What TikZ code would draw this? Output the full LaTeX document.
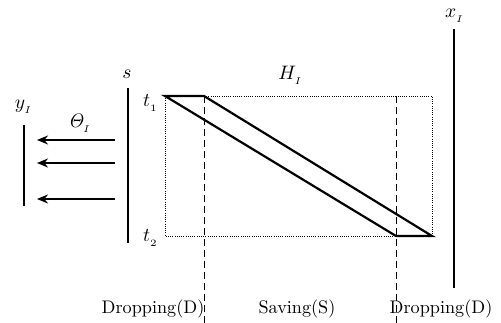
\documentclass[tikz,border=0pt]{standalone}
\usepackage{graphicx}
\usetikzlibrary{arrows.meta}
\newcommand{\mybig}[1]{\scalebox{1.95}{#1}}
\newcommand{\mytxt}[1]{\scalebox{1.82}{#1}}
\begin{document}
\begin{tikzpicture}[x=1pt,y=-1pt,
  bar/.style={line width=2.6pt},
  edge/.style={line width=2.2pt,line join=miter},
  dotline/.style={line width=0.9pt,dash pattern=on 1pt off 1.2pt},
  dashline/.style={line width=0.9pt,dash pattern=on 7pt off 4pt},
  ray/.style={line width=2.4pt,-{Stealth[length=11pt,width=9pt]}},
  lbl/.style={inner sep=0pt}]
\useasboundingbox (0,0) rectangle (501,323);
% corner coordinates
\coordinate (tl) at (165,96);
\coordinate (tm) at (204,96);
\coordinate (tr) at (432,96);
\coordinate (bl) at (165,236);
\coordinate (bm) at (396,236);
\coordinate (br) at (432,236);
\coordinate (dm) at (396,96);
\coordinate (dlb) at (204,323);
\coordinate (drb) at (396,323);
% dotted rectangle
\draw[dotline] (tm) -- (tr) -- (br);
\draw[dotline] (tl) -- (bl) -- (bm);
% dashed verticals
\draw[dashline] (tm) -- (dlb);
\draw[dashline] (dm) -- (drb);
% parallelogram
\draw[edge] (bm) -- (tl) -- (tm) -- (br) -- cycle;
% bars
\coordinate (s1) at (128,88); \coordinate (s2) at (128,243);
\coordinate (x1) at (454,29); \coordinate (x2) at (454,288);
\coordinate (y1) at (24,125); \coordinate (y2) at (24,206);
\draw[bar] (s1) -- (s2);
\draw[bar] (x1) -- (x2);
\draw[bar] (y1) -- (y2);
% arrows
\foreach \i/\yy in {a/140,b/163,c/199}{
  \coordinate (\i1) at (115,\yy); \coordinate (\i2) at (37,\yy);
  \draw[ray] (\i1) -- (\i2);
}
% labels
\node[lbl] (ls) at (127,74) {\mybig{$s$}};
\node[lbl] (lx) at (455,16) {\mybig{$x_{_I}$}};
\node[lbl] (ly) at (24,107) {\mybig{$y_{_I}$}};
\node[lbl] (lth) at (80,123) {\mybig{$\mathit{\Theta}_{_I}$}};
\node[lbl] (lh) at (291,75) {\mybig{$H_{_I}$}};
\node[lbl] (lt1) at (151,103) {\mybig{$t_{_1}$}};
\node[lbl] (lt2) at (151,238) {\mybig{$t_{_2}$}};
\node[lbl] (d1) at (153,309) {\mytxt{Dropping(D)}};
\node[lbl] (sv) at (297,309) {\mytxt{Saving(S)}};
\node[lbl] (d2) at (441,309) {\mytxt{Dropping(D)}};
\end{tikzpicture}
\end{document}
